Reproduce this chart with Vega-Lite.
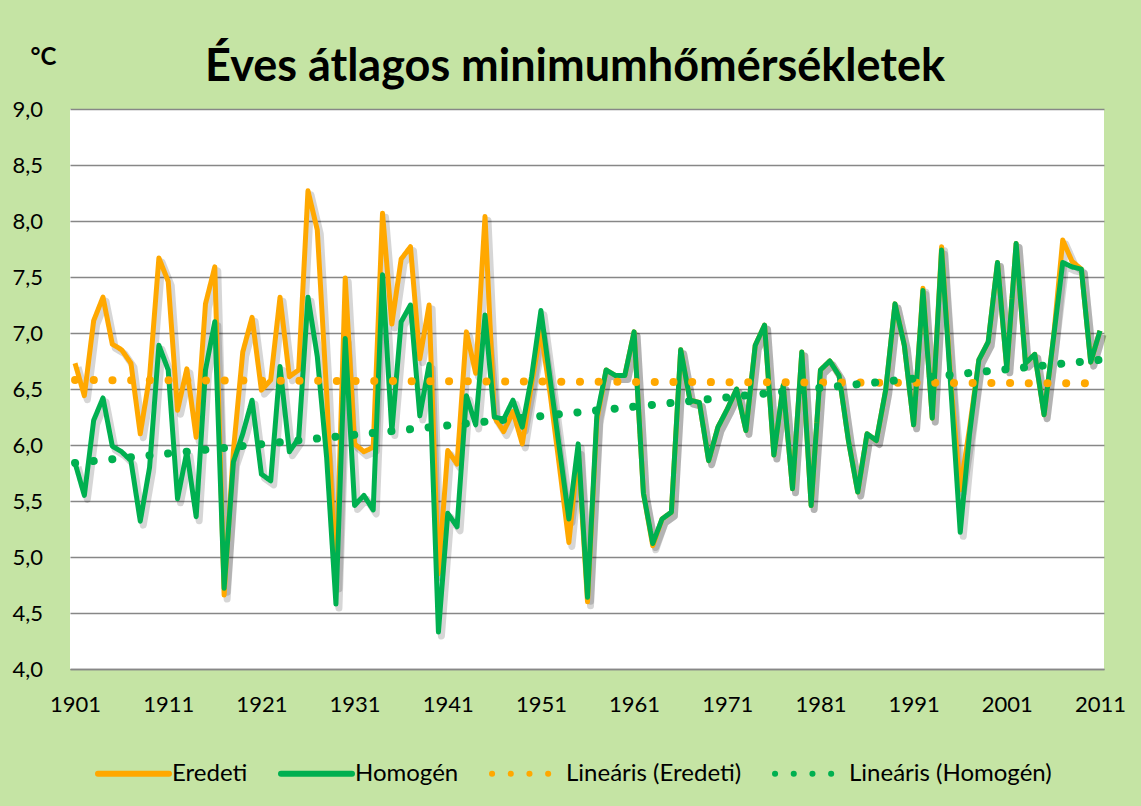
{
  "$schema": "https://vega.github.io/schema/vega-lite/v6.json",
  "width": 1034,
  "height": 560,
  "autosize": {"type": "none"},
  "padding": {"left": 70, "top": 109, "right": 37, "bottom": 137},
  "background": "#c5e4a4",
  "config": {"view": {"fill": "white", "stroke": null}, "font": "Lato"},
  "title": {"text": "Éves átlagos minimumhőmérsékletek", "font": "Lato", "fontSize": 45, "fontWeight": "bold", "color": "#000000", "anchor": "middle", "frame": "group", "dx": -12, "dy": 55, "offset": 10},
  "datasets": {
    "main": [
      {"year": 1901, "Eredeti": 6.73, "Homogén": 5.84},
      {"year": 1902, "Eredeti": 6.44, "Homogén": 5.55},
      {"year": 1903, "Eredeti": 7.11, "Homogén": 6.22},
      {"year": 1904, "Eredeti": 7.32, "Homogén": 6.42},
      {"year": 1905, "Eredeti": 6.90, "Homogén": 5.99},
      {"year": 1906, "Eredeti": 6.85, "Homogén": 5.94},
      {"year": 1907, "Eredeti": 6.73, "Homogén": 5.86},
      {"year": 1908, "Eredeti": 6.10, "Homogén": 5.32},
      {"year": 1909, "Eredeti": 6.61, "Homogén": 5.80},
      {"year": 1910, "Eredeti": 7.67, "Homogén": 6.89},
      {"year": 1911, "Eredeti": 7.46, "Homogén": 6.67},
      {"year": 1912, "Eredeti": 6.31, "Homogén": 5.52},
      {"year": 1913, "Eredeti": 6.68, "Homogén": 5.94},
      {"year": 1914, "Eredeti": 6.07, "Homogén": 5.36},
      {"year": 1915, "Eredeti": 7.26, "Homogén": 6.67},
      {"year": 1916, "Eredeti": 7.59, "Homogén": 7.10},
      {"year": 1917, "Eredeti": 4.66, "Homogén": 4.72},
      {"year": 1918, "Eredeti": 5.95, "Homogén": 5.85},
      {"year": 1919, "Eredeti": 6.83, "Homogén": 6.10},
      {"year": 1920, "Eredeti": 7.14, "Homogén": 6.40},
      {"year": 1921, "Eredeti": 6.49, "Homogén": 5.74},
      {"year": 1922, "Eredeti": 6.58, "Homogén": 5.68},
      {"year": 1923, "Eredeti": 7.32, "Homogén": 6.70},
      {"year": 1924, "Eredeti": 6.61, "Homogén": 5.94},
      {"year": 1925, "Eredeti": 6.67, "Homogén": 6.06},
      {"year": 1926, "Eredeti": 8.27, "Homogén": 7.32},
      {"year": 1927, "Eredeti": 7.92, "Homogén": 6.79},
      {"year": 1928, "Eredeti": 6.47, "Homogén": 5.89},
      {"year": 1929, "Eredeti": 4.75, "Homogén": 4.58},
      {"year": 1930, "Eredeti": 7.49, "Homogén": 6.95},
      {"year": 1931, "Eredeti": 6.01, "Homogén": 5.46},
      {"year": 1932, "Eredeti": 5.94, "Homogén": 5.55},
      {"year": 1933, "Eredeti": 5.98, "Homogén": 5.42},
      {"year": 1934, "Eredeti": 8.07, "Homogén": 7.52},
      {"year": 1935, "Eredeti": 7.08, "Homogén": 6.12},
      {"year": 1936, "Eredeti": 7.66, "Homogén": 7.10},
      {"year": 1937, "Eredeti": 7.77, "Homogén": 7.25},
      {"year": 1938, "Eredeti": 6.77, "Homogén": 6.26},
      {"year": 1939, "Eredeti": 7.25, "Homogén": 6.72},
      {"year": 1940, "Eredeti": 4.85, "Homogén": 4.33},
      {"year": 1941, "Eredeti": 5.95, "Homogén": 5.39},
      {"year": 1942, "Eredeti": 5.83, "Homogén": 5.27},
      {"year": 1943, "Eredeti": 7.01, "Homogén": 6.44},
      {"year": 1944, "Eredeti": 6.64, "Homogén": 6.18},
      {"year": 1945, "Eredeti": 8.04, "Homogén": 7.16},
      {"year": 1946, "Eredeti": 6.25, "Homogén": 6.25},
      {"year": 1947, "Eredeti": 6.12, "Homogén": 6.23},
      {"year": 1948, "Eredeti": 6.30, "Homogén": 6.40},
      {"year": 1949, "Eredeti": 6.01, "Homogén": 6.16},
      {"year": 1950, "Eredeti": 6.55, "Homogén": 6.61},
      {"year": 1951, "Eredeti": 7.02, "Homogén": 7.20},
      {"year": 1952, "Eredeti": 6.45, "Homogén": 6.58},
      {"year": 1953, "Eredeti": 5.80, "Homogén": 5.96},
      {"year": 1954, "Eredeti": 5.13, "Homogén": 5.34},
      {"year": 1955, "Eredeti": 5.95, "Homogén": 6.01},
      {"year": 1956, "Eredeti": 4.60, "Homogén": 4.64},
      {"year": 1957, "Eredeti": 6.22, "Homogén": 6.26},
      {"year": 1958, "Eredeti": 6.67, "Homogén": 6.67},
      {"year": 1959, "Eredeti": 6.62, "Homogén": 6.62},
      {"year": 1960, "Eredeti": 6.62, "Homogén": 6.62},
      {"year": 1961, "Eredeti": 7.01, "Homogén": 7.01},
      {"year": 1962, "Eredeti": 5.57, "Homogén": 5.57},
      {"year": 1963, "Eredeti": 5.10, "Homogén": 5.12},
      {"year": 1964, "Eredeti": 5.34, "Homogén": 5.34},
      {"year": 1965, "Eredeti": 5.40, "Homogén": 5.40},
      {"year": 1966, "Eredeti": 6.85, "Homogén": 6.85},
      {"year": 1967, "Eredeti": 6.40, "Homogén": 6.40},
      {"year": 1968, "Eredeti": 6.38, "Homogén": 6.38},
      {"year": 1969, "Eredeti": 5.86, "Homogén": 5.86},
      {"year": 1970, "Eredeti": 6.16, "Homogén": 6.16},
      {"year": 1971, "Eredeti": 6.32, "Homogén": 6.32},
      {"year": 1972, "Eredeti": 6.50, "Homogén": 6.50},
      {"year": 1973, "Eredeti": 6.13, "Homogén": 6.13},
      {"year": 1974, "Eredeti": 6.89, "Homogén": 6.89},
      {"year": 1975, "Eredeti": 7.07, "Homogén": 7.07},
      {"year": 1976, "Eredeti": 5.91, "Homogén": 5.91},
      {"year": 1977, "Eredeti": 6.53, "Homogén": 6.53},
      {"year": 1978, "Eredeti": 5.61, "Homogén": 5.61},
      {"year": 1979, "Eredeti": 6.83, "Homogén": 6.83},
      {"year": 1980, "Eredeti": 5.46, "Homogén": 5.46},
      {"year": 1981, "Eredeti": 6.67, "Homogén": 6.67},
      {"year": 1982, "Eredeti": 6.75, "Homogén": 6.75},
      {"year": 1983, "Eredeti": 6.62, "Homogén": 6.62},
      {"year": 1984, "Eredeti": 6.04, "Homogén": 6.04},
      {"year": 1985, "Eredeti": 5.58, "Homogén": 5.58},
      {"year": 1986, "Eredeti": 6.10, "Homogén": 6.10},
      {"year": 1987, "Eredeti": 6.04, "Homogén": 6.04},
      {"year": 1988, "Eredeti": 6.49, "Homogén": 6.49},
      {"year": 1989, "Eredeti": 7.26, "Homogén": 7.26},
      {"year": 1990, "Eredeti": 6.89, "Homogén": 6.89},
      {"year": 1991, "Eredeti": 6.18, "Homogén": 6.18},
      {"year": 1992, "Eredeti": 7.40, "Homogén": 7.38},
      {"year": 1993, "Eredeti": 6.24, "Homogén": 6.24},
      {"year": 1994, "Eredeti": 7.77, "Homogén": 7.74},
      {"year": 1995, "Eredeti": 6.55, "Homogén": 6.50},
      {"year": 1996, "Eredeti": 5.60, "Homogén": 5.22},
      {"year": 1997, "Eredeti": 6.15, "Homogén": 6.10},
      {"year": 1998, "Eredeti": 6.76, "Homogén": 6.76},
      {"year": 1999, "Eredeti": 6.92, "Homogén": 6.92},
      {"year": 2000, "Eredeti": 7.63, "Homogén": 7.63},
      {"year": 2001, "Eredeti": 6.68, "Homogén": 6.68},
      {"year": 2002, "Eredeti": 7.80, "Homogén": 7.80},
      {"year": 2003, "Eredeti": 6.73, "Homogén": 6.73},
      {"year": 2004, "Eredeti": 6.81, "Homogén": 6.81},
      {"year": 2005, "Eredeti": 6.27, "Homogén": 6.27},
      {"year": 2006, "Eredeti": 6.95, "Homogén": 6.95},
      {"year": 2007, "Eredeti": 7.83, "Homogén": 7.63},
      {"year": 2008, "Eredeti": 7.64, "Homogén": 7.59},
      {"year": 2009, "Eredeti": 7.57, "Homogén": 7.57},
      {"year": 2010, "Eredeti": 6.74, "Homogén": 6.74},
      {"year": 2011, "Eredeti": 7.02, "Homogén": 7.02}
    ],
    "trend": [
      {"year": 1901, "s": "Lineáris (Eredeti)", "v": 6.58},
      {"year": 2011, "s": "Lineáris (Eredeti)", "v": 6.55},
      {"year": 1901, "s": "Lineáris (Homogén)", "v": 5.84},
      {"year": 2011, "s": "Lineáris (Homogén)", "v": 6.76}
    ]
  },
  "encoding": {
    "x": {"field": "year", "type": "quantitative",
      "scale": {"domain": [1900.46, 2011.43], "nice": false, "zero": false},
      "axis": {"values": [1901, 1911, 1921, 1931, 1941, 1951, 1961, 1971, 1981, 1991, 2001, 2011], "format": "d", "title": null, "grid": false, "ticks": false, "tickSize": 0, "domain": true, "domainColor": "#878787", "domainWidth": 1.5, "labelFontSize": 22, "labelFont": "Lato", "labelColor": "#000000", "labelPadding": 25, "labelAngle": 0, "labelFlush": false, "labelOverlap": false}},
    "y": {"field": "v", "type": "quantitative",
      "scale": {"domain": [4, 9], "nice": false, "zero": false},
      "axis": {"values": [4, 4.5, 5, 5.5, 6, 6.5, 7, 7.5, 8, 8.5, 9], "labelExpr": "replace(format(datum.value, '.1f'), '.', ',')", "grid": true, "gridColor": "#878787", "gridWidth": 1.5, "domain": false, "ticks": false, "tickSize": 0, "labelPadding": 58, "labelAlign": "left", "labelFontSize": 22, "labelFont": "Lato", "labelColor": "#000000", "title": "°C", "titleAngle": 0, "titleX": -27, "titleY": -52, "titleAlign": "center", "titleBaseline": "middle", "titleFontSize": 24, "titleFont": "Lato", "titleFontWeight": "bold", "titleColor": "#000000"}}
  },
  "layer": [
    {
      "data": {"name": "main"},
      "transform": [{"fold": ["Eredeti", "Homogén"], "as": ["s", "v"]}],
      "mark": {"type": "line", "color": "#000000", "opacity": 0.16, "strokeWidth": 7, "strokeJoin": "round", "xOffset": 3, "yOffset": 4},
      "encoding": {"detail": {"field": "s", "type": "nominal"}}
    },
    {
      "data": {"name": "main"},
      "transform": [{"fold": ["Eredeti", "Homogén"], "as": ["s", "v"]}],
      "mark": {"type": "line", "strokeWidth": 5, "strokeJoin": "round"},
      "encoding": {
        "color": {"field": "s", "type": "nominal",
          "scale": {"domain": ["Eredeti", "Homogén", "Lineáris (Eredeti)", "Lineáris (Homogén)"], "range": ["#ffa800", "#00b050", "#ffa800", "#00b050"]},
          "legend": {"orient": "none", "legendX": 25, "legendY": 626, "direction": "horizontal", "title": null, "symbolType": "stroke", "symbolSize": 5041, "symbolStrokeWidth": 6, "labelFontSize": 24, "labelFont": "Lato", "labelColor": "#000000", "labelLimit": 400, "labelOffset": 0, "columnPadding": 21,
            "encode": {"symbols": {"update": {"strokeCap": {"value": "round"}}}}}},
        "strokeDash": {"field": "s", "type": "nominal",
          "scale": {"domain": ["Eredeti", "Homogén", "Lineáris (Eredeti)", "Lineáris (Homogén)"], "range": [[1, 0], [1, 0], [0.1, 18.6], [0.1, 18.6]]}}
      }
    },
    {
      "data": {"name": "trend"},
      "mark": {"type": "line", "strokeWidth": 8, "strokeCap": "round"},
      "encoding": {
        "color": {"field": "s", "type": "nominal"},
        "strokeDash": {"field": "s", "type": "nominal"}
      }
    }
  ]
}
